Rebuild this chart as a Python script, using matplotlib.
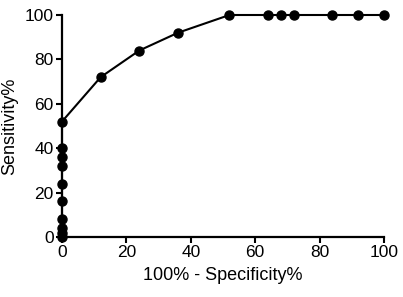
import matplotlib
matplotlib.use("Agg")
import matplotlib.pyplot as plt

# ROC curve points
fpr = [0, 0, 0, 0, 0, 0, 0, 0, 0, 0, 12, 24, 36, 52, 64, 68, 72, 84, 92, 100]
sens = [0, 2, 4, 8, 16, 24, 32, 36, 40, 52, 72, 84, 92, 100, 100, 100, 100, 100, 100, 100]
x_ticks = [0, 20, 40, 60, 80, 100]
y_ticks = [0, 20, 40, 60, 80, 100]

plt.rcParams["font.family"] = ["Liberation Sans", "DejaVu Sans"]

fig = plt.figure(figsize=(4.03, 2.97), dpi=100)
ax = fig.add_axes([62 / 403, 60 / 297, 322 / 403, 222 / 297])

ax.plot(fpr, sens, color="black", lw=1.5, marker="o", ms=6.5,
        markeredgecolor="black", markerfacecolor="black", clip_on=False, zorder=3)

ax.set_xlim(0, 100)
ax.set_ylim(0, 100)
ax.set_xticks(x_ticks)
ax.set_yticks(y_ticks)
for s in ("top", "right"):
    ax.spines[s].set_visible(False)
for s in ("left", "bottom"):
    ax.spines[s].set_linewidth(1.6)
ax.tick_params(direction="out", length=4, width=1.5, labelsize=12.5, pad=2)

ax.set_xlabel("100% - Specificity%", fontsize=13, labelpad=5)
ax.set_ylabel("Sensitivity%", fontsize=13, labelpad=5)

fig.savefig("out.png", dpi=100)
